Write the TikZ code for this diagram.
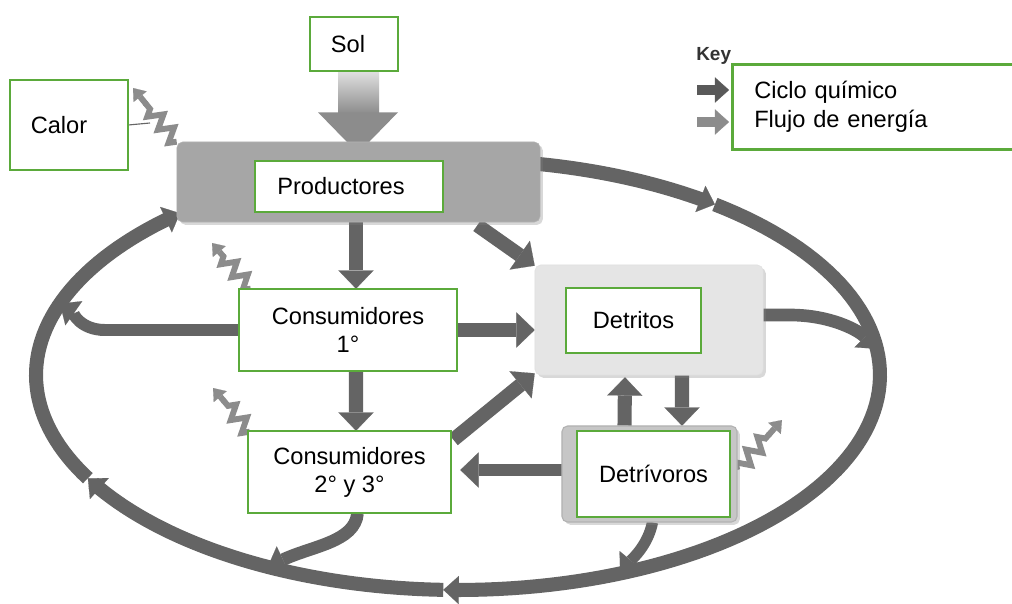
\documentclass[tikz,border=0pt]{standalone}
\usepackage{fontspec}
\setmainfont{Liberation Sans}
\usetikzlibrary{arrows.meta,calc,shadows,decorations.pathmorphing}
\definecolor{grn}{RGB}{91,170,59}
\definecolor{chem}{RGB}{100,100,100}
\definecolor{energ}{RGB}{140,140,140}
\definecolor{prodgray}{RGB}{166,166,166}
\definecolor{detgray}{RGB}{229,229,229}
\definecolor{dtvgray}{RGB}{198,198,198}
\pgfdeclareradialshading{glow}{\pgfpoint{0bp}{0bp}}{color(0bp)=(white); color(39bp)=(white); color(44bp)=(black!10); color(48bp)=(white); color(50bp)=(white)}
\begin{document}
\begin{tikzpicture}[x=0.025cm,y=-0.025cm,
  font=\fontsize{16.8}{20}\selectfont,
  lbl/.style={draw=grn,line width=1.8pt,fill=white,inner sep=0pt,align=center},
  graybox/.style={rounded corners=4pt,inner sep=0pt,drop shadow={shadow xshift=2pt,shadow yshift=-2pt,opacity=0.3}},
  chemarrow/.style={draw=chem,line width=10pt,-{Triangle[width=25pt,length=13pt,line width=0.1pt]}},
  joinarrow/.style={draw=chem,line width=9pt,-{Triangle[width=21pt,length=12pt,line width=0.1pt]}},
  loopseg/.style={draw=chem,line width=10pt,-{Triangle[width=20pt,length=11pt,line width=0.1pt]}},
  heat/.style={draw=energ,line width=4.2pt,line join=miter,decorate,decoration={zigzag,amplitude=5pt,segment length=12pt}},
  heattip/.style={draw=energ,line width=4.2pt,-{Triangle[width=12pt,length=8pt,line width=0.1pt]}},
]
\clip (0,0) rectangle (1012,604);
\fill[white] (0,0) rectangle (1012,604);
\shade[shading=glow] (395,-250) circle (358);

% nodes (positions)
\path
  node[minimum width=9.075cm,minimum height=2cm] (prod) at (358.5,182) {}
  node[minimum width=5.7cm,minimum height=2.75cm] (det) at (649,320) {}
  node[minimum width=4.375cm,minimum height=2.4cm] (dtv) at (649.5,474) {}
  node[minimum width=2.2cm,minimum height=1.35cm] (sol) at (354,44) {}
  node[minimum width=5.45cm,minimum height=2.05cm] (cons1) at (348,330) {}
  node[minimum width=5.075cm,minimum height=2.05cm] (cons2) at (349.5,472) {}
  node[minimum width=2.95cm,minimum height=2.25cm] (calor) at (69,125) {};

% named points
\coordinate (Lr) at ({458+422*cos(7)},{375-215*sin(7)});
\coordinate (Lb2) at ({458+422*cos(-67.4)},{375-215*sin(-67.4)});
\coordinate (Lb1) at ({458+422*cos(-116.8)},{375-215*sin(-116.8)});
\coordinate (Ll) at ({458+422*cos(160.6)},{375-215*sin(160.6)});
\coordinate (hb1) at (prod.north west);
\coordinate (hb2) at ($(cons1.north west)+(12,0)$);
\coordinate (hb3) at ($(cons2.north west)+(2,1)$);
\coordinate (hb4) at ($(dtv.east)+(0,-4)$);
\coordinate (h1) at (133,88);
\coordinate (h2) at (212,243);
\coordinate (h3) at (213,388);
\coordinate (h4) at (782,420);
\coordinate (calend) at (150,123);

% big chemical loop
\draw[loopseg] plot[domain=79:52.5,samples=20] ({458+422*cos(\x)},{375-215*sin(\x)});
\draw[loopseg] plot[domain=52.5:-92,samples=80] ({458+422*cos(\x)},{375-215*sin(\x)});
\draw[loopseg] plot[domain=-92:-151.3,samples=40] ({458+422*cos(\x)},{375-215*sin(\x)});
\draw[loopseg] plot[domain=-151.3:-228.8,samples=50] ({458+422*cos(\x)},{375-215*sin(\x)});

% heat (energy) zigzags
\foreach \b/\t in {hb1/h1,hb2/h2,hb3/h3,hb4/h4}{
  \draw[heat] (\b) -- ($(\b)!0.72!(\t)$);
  \draw[heattip] ($(\b)!0.7!(\t)$) -- (\t);
}
\draw[draw=black!60,line width=0.8pt] (calor.east) -- (calend);

% sun energy arrow
\shade[top color=black!12,bottom color=energ] ($(sol.south)+(-16,0)$) rectangle ($(sol.south)+(25,42)$);
\fill[energ] ($(sol.south)+(-36,41)$) -- ($(sol.south)+(44,41)$) -- ($(sol.south)+(4,82)$) -- cycle;

% chemical connectors
\draw[chemarrow] ($(prod.south -| cons1.north)+(8,0)$) -- ($(cons1.north)+(8,0)$);
\draw[chemarrow] ($(cons1.south)+(8,0)$) -- ($(cons2.north)+(6.5,0)$);
\draw[chemarrow] ($(prod.south east)+(-63,3)$) -- ($(det.north west)+(0,1)$);
\draw[chemarrow] (cons1.east) -- (cons1.east -| det.west);
\draw[chemarrow] ($(cons2.north east)+(2,9)$) -- ($(det.south west)+(0,-2)$);
\draw[chemarrow,line width=9pt] ($(dtv.west)+(0,-4)$) -- ($(cons2.east)+(9,-2)$);
\draw[chemarrow] ($(dtv.north)+(-25,0)$) -- ($(det.south)+(-24,2)$);
\draw[chemarrow] ($(det.south)+(33,0)$) -- ($(dtv.north)+(32.5,0)$);
\draw[joinarrow,line width=8.5pt] (cons1.west) -- (105,330) .. controls (80,330) and (72,312) .. (Ll);
\draw[joinarrow] ($(det.east)+(0,-5)$) -- (790,315) .. controls (830,315) and (858,330) .. (Lr);
\draw[joinarrow] ($(cons2.south)+(8,0)$) .. controls (355,542) and (312,546) .. (Lb1);
\draw[joinarrow,line width=8pt] ($(dtv.south)+(3,0)$) .. controls (648,545) and (633,558) .. (Lb2);

% gray boxes
\node[graybox,fill=prodgray,draw=black!30,minimum width=9.075cm,minimum height=2cm] at (prod) {};
\node[graybox,fill=detgray,draw=black!12,minimum width=5.7cm,minimum height=2.75cm] at (det) {};
\node[graybox,fill=dtvgray,draw=black!30,line width=0.8pt,minimum width=4.375cm,minimum height=2.4cm] at (dtv) {};

% labels
\node[lbl,minimum width=4.7cm,minimum height=1.275cm] (prodl) at (349,186.5) {Productores\hspace{0.4cm}};
\node[lbl,minimum width=2.2cm,minimum height=1.35cm] at (sol) {Sol\hspace{0.3cm}};
\node[lbl,minimum width=2.95cm,minimum height=2.25cm] at (calor) {Calor\hspace{0.5cm}};
\node[lbl,minimum width=3.375cm,minimum height=1.625cm] (detl) at (633.5,320.5) {Detritos};
\node[lbl,minimum width=3.825cm,minimum height=2.15cm] (dtvl) at (653.5,474) {Detrívoros};
\node[lbl,minimum width=5.45cm,minimum height=2.05cm] at (cons1) {Consumidores\\1°};
\node[lbl,minimum width=5.075cm,minimum height=2.05cm] at (cons2) {Consumidores\\2° y 3°};

% key
\node[anchor=base west,inner sep=0pt,font=\fontsize{13.5}{15}\selectfont\bfseries,text=black!80] (key) at (696,61) {Key};
\draw[draw=black!65,line width=7pt,-{Triangle[width=18pt,length=10pt,line width=0.1pt]}] (697,90) -- (729,90);
\draw[draw=black!45,line width=7pt,-{Triangle[width=18pt,length=10pt,line width=0.1pt]}] (697,122) -- (729,122);
\node[lbl,anchor=north west,minimum width=7.1cm,minimum height=2.125cm,text width=6cm,align=left,font=\fontsize{16.8}{21.3}\selectfont] (keybox) at (731,63) {Ciclo químico\\Flujo de energía};
\end{tikzpicture}
\end{document}
